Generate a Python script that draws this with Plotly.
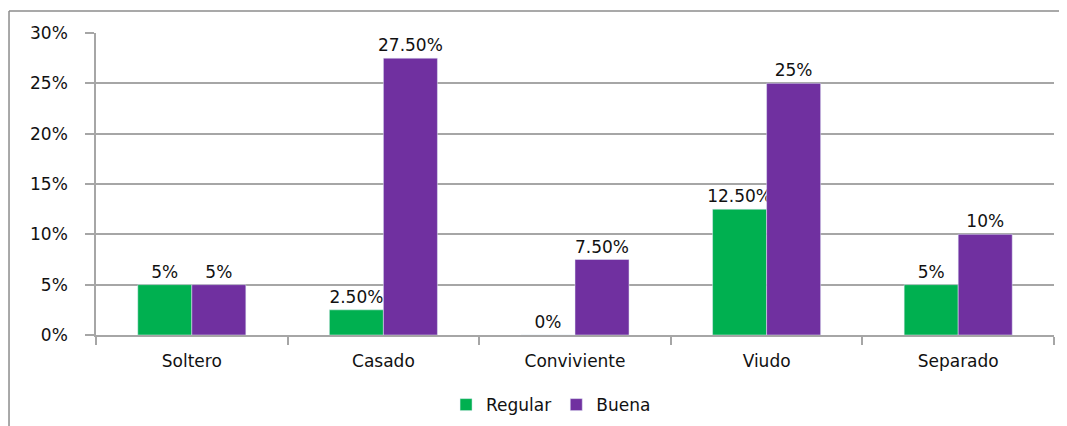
import plotly.graph_objects as go

categories = ["Soltero", "Casado", "Conviviente", "Viudo", "Separado"]
regular = [0.05, 0.025, 0.0, 0.125, 0.05]
buena = [0.05, 0.275, 0.075, 0.25, 0.10]
regular_labels = ["5%", "2.50%", "0%", "12.50%", "5%"]
buena_labels = ["5%", "27.50%", "7.50%", "25%", "10%"]
y_ticks = [0, 0.05, 0.10, 0.15, 0.20, 0.25, 0.30]
y_tick_labels = ["0%", "5%", "10%", "15%", "20%", "25%", "30%"]

FONT = "DejaVu Sans"
FS = 17
GRID = "#A6A6A6"

fig = go.Figure()
fig.add_trace(go.Bar(x=categories, y=regular, name="Regular", marker_color="#00B050",
                     text=regular_labels, textposition="outside", cliponaxis=False,
                     constraintext="none",
                     textfont=dict(family=FONT, size=FS, color="#111")))
fig.add_trace(go.Bar(x=categories, y=buena, name="Buena", marker_color="#7030A0",
                     text=buena_labels, textposition="outside", cliponaxis=False,
                     constraintext="none",
                     textfont=dict(family=FONT, size=FS, color="#111")))

# page body has an 8px margin, so the figure is sized/offset to compensate
fig.update_layout(
    width=1059, height=418,
    margin=dict(l=88, r=13, t=25, b=91, autoexpand=False),
    paper_bgcolor="white", plot_bgcolor="white",
    barmode="group", bargap=0.436, bargroupgap=0,
    font=dict(family=FONT, size=FS, color="#111"),
    showlegend=True,
    legend=dict(orientation="h", x=0.475, xanchor="center", y=-0.232, yanchor="middle",
                font=dict(family=FONT, size=FS), itemwidth=30),
)
fig.update_yaxes(range=[0, 0.30], tickvals=y_ticks, ticktext=y_tick_labels,
                 showgrid=True, gridcolor=GRID, gridwidth=1.5,
                 showline=True, linecolor=GRID, linewidth=1.5,
                 ticks="outside", ticklen=9, tickcolor=GRID, tickwidth=1.5,
                 ticklabelstandoff=14,
                 tickfont=dict(family=FONT, size=FS), zeroline=False, automargin=False)
fig.update_xaxes(showline=True, linecolor=GRID, linewidth=1.5,
                 ticks="outside", tickson="boundaries", ticklen=8, tickcolor=GRID, tickwidth=1.5,
                 ticklabelstandoff=10,
                 tickfont=dict(family=FONT, size=FS), showgrid=False, automargin=False)

# outer chart frame
fig.add_shape(type="line", xref="paper", yref="paper", x0=-0.0908, x1=-0.0908, y0=-0.5, y1=1.0728,
              line=dict(color="#8C8C8C", width=1.5))
fig.add_shape(type="line", xref="paper", yref="paper", x0=-0.0908, x1=1.05, y0=1.0728, y1=1.0728,
              line=dict(color="#8C8C8C", width=1.5))

fig.write_html("out.html")
